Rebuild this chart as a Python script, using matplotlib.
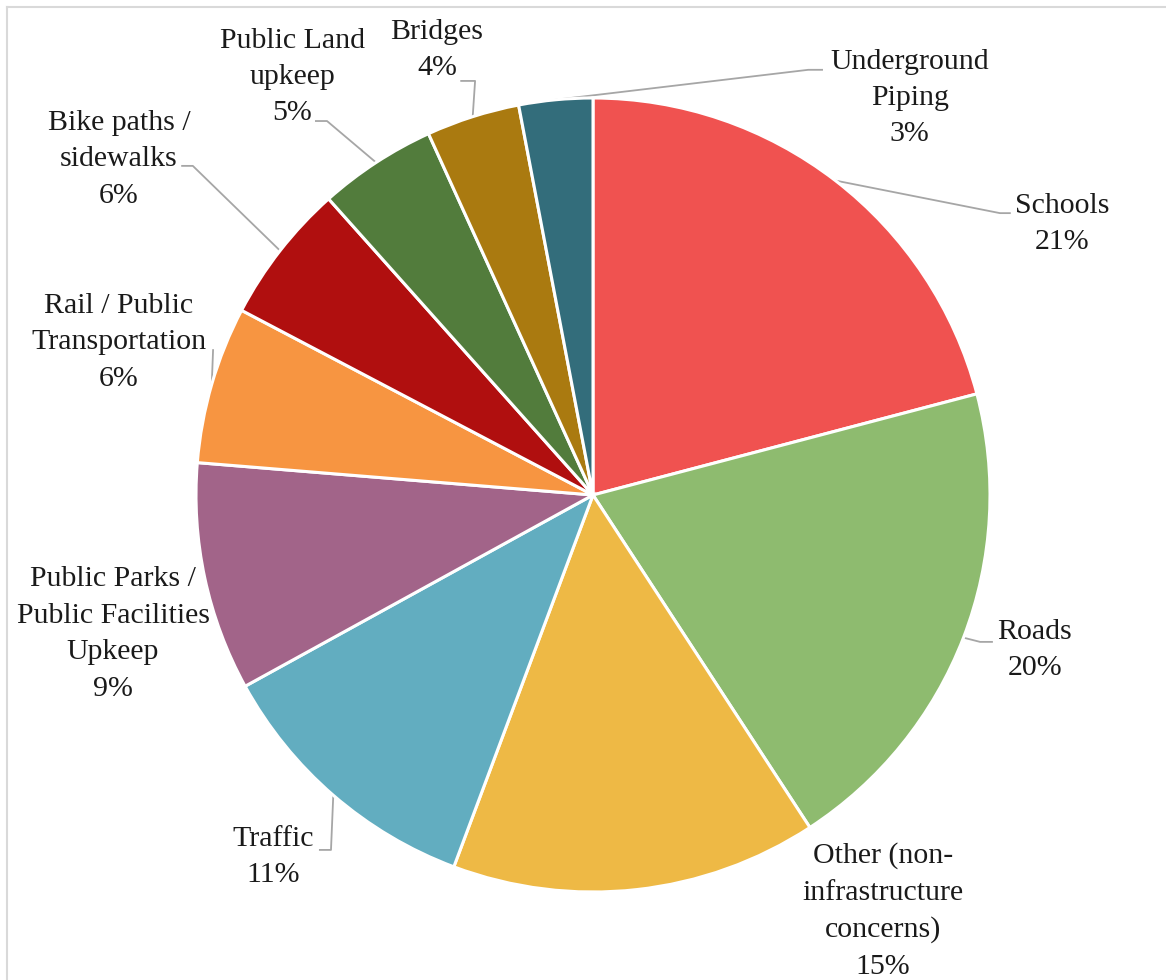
import numpy as np
from matplotlib import pyplot as plt
from matplotlib.lines import Line2D

# share of responses (percent), clockwise from 12 o'clock
categories = ['Schools', 'Roads', 'Other (non-\ninfrastructure\nconcerns)', 'Traffic',
              'Public Parks /\nPublic Facilities\nUpkeep', 'Rail / Public\nTransportation',
              'Bike paths /\nsidewalks', 'Public Land\nupkeep', 'Bridges', 'Underground\nPiping']
values = [20.9, 19.9, 14.9, 11.3, 9.3, 6.4, 5.7, 4.8, 3.8, 3.0]
colors = ['#F05250', '#8EBB6F', '#EEB945', '#62ADC0', '#A26489',
          '#F79541', '#B00F0F', '#527C3C', '#AA7A10', '#336D7B']

# label layout (pie radius = 1): text centre, leader elbow, leader end
label_pos = [(1.181, 0.683), (1.113, -0.390), (0.730, -1.048), (-0.806, -0.912),
             (-1.209, -0.350), (-1.194, 0.385), (-1.194, 0.846), (-0.758, 1.053),
             (-0.393, 1.121), (0.798, 1.0)]
leaders = [((1.025, 0.710), (1.050, 0.710)), ((0.975, -0.370), (1.005, -0.370)), None,
           ((-0.660, -0.894), (-0.688, -0.894)), None,
           ((-0.957, 0.365), (-0.957, 0.365)), ((-1.008, 0.829), (-1.035, 0.829)),
           ((-0.670, 0.942), (-0.698, 0.942)), ((-0.297, 1.043), (-0.332, 1.043)),
           ((0.542, 1.071), (0.577, 1.071))]

W, H = 1166, 980
fig = plt.figure(figsize=(W / 100, H / 100), dpi=100)
cx, cy, r = 593, 495, 397
ax = fig.add_axes([(cx - r) / W, (H - cy - r) / H, 2 * r / W, 2 * r / H])

wedges, _ = ax.pie(values, colors=colors, startangle=90, counterclock=False, radius=1,
                   wedgeprops=dict(edgecolor='white', linewidth=2.2))
ax.set_xlim(-1, 1)
ax.set_ylim(-1, 1)
ax.axis('off')

font = ['Liberation Serif', 'DejaVu Serif']
for w, cat, v, pos, ld in zip(wedges, categories, values, label_pos, leaders):
    ax.text(pos[0], pos[1], f'{cat}\n{round(v)}%', ha='center', va='center',
            fontsize=21.5, family=font, color='#1a1a1a', linespacing=1.52, clip_on=False)
    if ld is not None:
        mid = np.deg2rad((w.theta1 + w.theta2) / 2)
        xs = [np.cos(mid), ld[0][0], ld[1][0]]
        ys = [np.sin(mid), ld[0][1], ld[1][1]]
        ax.plot(xs, ys, color='#A6A6A6', lw=1.3, clip_on=False, zorder=0.5)

# chart area border (top/left visible)
fig.add_artist(Line2D([7 / W, 7 / W], [0, 1 - 7 / H], color='#D9D9D9', lw=1.5))
fig.add_artist(Line2D([7 / W, 1], [1 - 7 / H, 1 - 7 / H], color='#D9D9D9', lw=1.5))

fig.savefig('out.png', dpi=100)
